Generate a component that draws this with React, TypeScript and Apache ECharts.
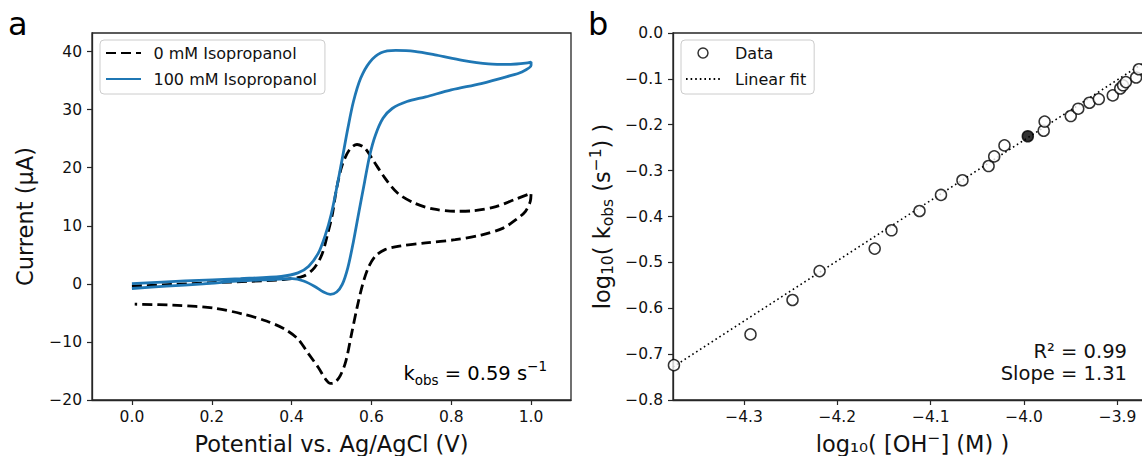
import React, { useEffect, useRef } from "react";
import * as echarts from "echarts";

// ---------- Panel a: cyclic voltammograms (forward scan then reverse scan) ----------
const cv0Potential = [
  0, 0.1, 0.2, 0.3, 0.38, 0.43, 0.457, 0.476, 0.49, 0.502, 0.513, 0.527, 0.545, 0.564, 0.583, 0.606, 0.634,
  0.666, 0.708, 0.754, 0.81, 0.856, 0.912, 0.958, 1.0,
  0.998, 0.986, 0.963, 0.93, 0.875, 0.81, 0.736, 0.67, 0.634, 0.61, 0.592, 0.578, 0.564, 0.55, 0.536, 0.522,
  0.508, 0.497, 0.485, 0.467, 0.443, 0.416, 0.383, 0.337, 0.281, 0.207, 0.114, 0.007,
];
const cv0Current = [
  -0.4, -0.1, 0.2, 0.45, 0.75, 1.33, 2.76, 5.05, 8.48, 11.9, 16.5, 20.5, 23.1, 24.0, 23.4, 21.1, 18.2,
  15.6, 13.9, 12.9, 12.5, 12.6, 13.3, 14.5, 15.6,
  14.2, 12.5, 11.1, 9.6, 8.4, 7.6, 7.05, 6.5, 5.9, 4.8, 2.76, -0.1, -4.1, -8.7, -13.3, -15.8,
  -17.0, -17.15, -16.4, -14.4, -12.1, -9.5, -7.8, -6.4, -5.25, -4.2, -3.7, -3.5,
];
const cv100Potential = [
  0, 0.133, 0.272, 0.374, 0.416, 0.443, 0.467, 0.485, 0.499, 0.513, 0.527, 0.541, 0.555, 0.573, 0.596,
  0.624, 0.661, 0.708, 0.763, 0.828, 0.893, 0.949, 0.986, 1.0,
  1.0, 0.977, 0.94, 0.875, 0.8, 0.736, 0.689, 0.652, 0.629, 0.61, 0.596, 0.583, 0.569, 0.555, 0.541,
  0.527, 0.513, 0.497, 0.48, 0.457, 0.43, 0.402, 0.355, 0.272, 0.179, 0.086, 0.0,
];
const cv100Current = [
  0.05, 0.5, 0.9, 1.3, 1.9, 3.05, 5.3, 8.5, 11.9, 16.5, 21.6, 26.8, 31.4, 35.4, 38.2,
  39.8, 40.2, 40.05, 39.4, 38.5, 37.9, 37.8, 38.0, 38.2,
  37.65, 36.5, 35.7, 34.5, 33.4, 32.2, 31.4, 30.2, 28.5, 25.6, 22.2, 17.6, 12.5, 7.3, 2.8,
  -0.1, -1.4, -1.8, -1.4, -0.4, 0.5, 0.9, 0.75, 0.5, 0.0, -0.4, -0.8,
];
const cvXTicks = [0, 0.2, 0.4, 0.6, 0.8, 1.0];
const cvYTicks = [-20, -10, 0, 10, 20, 30, 40];

// ---------- Panel b: log k_obs vs log [OH-] ----------
const logOH = [
  -4.375, -4.293, -4.248, -4.219, -4.16, -4.142, -4.112, -4.089, -4.066, -4.038, -4.032, -4.021, -3.996,
  -3.979, -3.978, -3.95, -3.942, -3.93, -3.92, -3.905, -3.897, -3.894, -3.891, -3.88, -3.877,
];
const logK = [
  -0.724, -0.657, -0.582, -0.519, -0.47, -0.43, -0.388, -0.353, -0.321, -0.29, -0.269, -0.245, -0.225,
  -0.213, -0.193, -0.181, -0.165, -0.152, -0.144, -0.136, -0.121, -0.114, -0.107, -0.097, -0.079,
];
const filledIndex = 12;
const fitLogOH = [-4.376, -3.862];
const fitLogK = [-0.728, -0.052];
const ohXTicks = [-4.3, -4.2, -4.1, -4.0, -3.9];
const kYTicks = [-0.8, -0.7, -0.6, -0.5, -0.4, -0.3, -0.2, -0.1, 0.0];

const FONT = "DejaVu Sans";
const INK = "#111";
const FRAME = "#262626";

const minus = (v: number, d: number) => (v < -1e-9 ? "\u2212" : "") + Math.abs(v).toFixed(d);

const richName = {
  n: { fontFamily: FONT, fontSize: 22.5, lineHeight: 28, color: INK },
  s: { fontFamily: FONT, fontSize: 15.5, lineHeight: 15.5, verticalAlign: "bottom", color: INK },
  p: { fontFamily: FONT, fontSize: 15.5, lineHeight: 15.5, verticalAlign: "top", color: INK },
};
const richNote = {
  n: { fontFamily: FONT, fontSize: 19.5, lineHeight: 28, color: INK },
  s: { fontFamily: FONT, fontSize: 13.5, lineHeight: 13.5, verticalAlign: "bottom", color: INK },
  p: { fontFamily: FONT, fontSize: 13.5, lineHeight: 13.5, verticalAlign: "top", color: INK },
};

function makeAxis(
  gridIndex: number,
  min: number,
  max: number,
  ticks: number[],
  digits: number,
  name: string,
  nameGap: number,
  isY: boolean
) {
  return {
    type: "value",
    gridIndex,
    min,
    max,
    axisLine: { show: true, onZero: false, lineStyle: { color: FRAME, width: 1.3 } },
    axisTick: { show: true, length: 5, customValues: ticks, lineStyle: { color: FRAME, width: 1.2 } },
    axisLabel: {
      customValues: ticks,
      formatter: (v: number) => minus(v, digits),
      color: INK,
      fontFamily: FONT,
      fontSize: 15.5,
      margin: isY ? 10 : 9,
      showMinLabel: true,
      showMaxLabel: true,
    },
    splitLine: { show: false },
    name,
    nameLocation: "middle",
    nameGap,
    nameRotate: isY ? 90 : 0,
    nameTextStyle: { fontFamily: FONT, fontSize: 22.5, lineHeight: 28, color: INK, rich: richName },
  };
}

const zip = (xs: number[], ys: number[]) => xs.map((x, i) => [x, ys[i]]);

const legendCommon = {
  orient: "vertical",
  selectedMode: false,
  backgroundColor: "rgba(255,255,255,0.8)",
  borderColor: "#cccccc",
  borderWidth: 1,
  borderRadius: 4,
  itemGap: 8,
};

const option = {
  animation: false,
  backgroundColor: "#ffffff",
  grid: [
    { left: 92, top: 33, width: 479, height: 367, show: true, borderColor: FRAME, borderWidth: 1.3, containLabel: false, outerBoundsMode: "none" },
    { left: 673, top: 33, width: 479, height: 367, show: true, borderColor: FRAME, borderWidth: 1.3, containLabel: false, outerBoundsMode: "none" },
  ],
  xAxis: [
    makeAxis(0, -0.1, 1.1, cvXTicks, 1, "Potential vs. Ag/AgCl (V)", 27, false),
    makeAxis(1, -4.376, -3.863, ohXTicks, 1, "{n|log\u2081\u2080( [OH}{p|\u2212}{n|] (M) )}", 26, false),
  ],
  yAxis: [
    makeAxis(0, -20, 43.2, cvYTicks, 0, "Current (\u03bcA)", 53, true),
    makeAxis(1, -0.8, 0, kYTicks, 1, "{n|log}{s|10}{n|( k}{s|obs}{n| (s}{p|\u22121}{n|) )}", 57, true),
  ],
  legend: [
    {
      ...legendCommon,
      left: 100,
      top: 40,
      padding: [4, 8, 6, 5],
      itemWidth: 35,
      itemHeight: 14,
      textStyle: { fontFamily: FONT, fontSize: 16, color: INK, lineHeight: 18, padding: [0, 0, 0, 7.5] },
      data: [
        { name: "0 mM Isopropanol", itemStyle: { opacity: 0 } },
        { name: "100 mM Isopropanol", itemStyle: { opacity: 0 } },
      ],
    },
    {
      ...legendCommon,
      left: 681,
      top: 40,
      padding: [4, 8, 6, 4],
      itemWidth: 34,
      itemHeight: 10,
      textStyle: { fontFamily: FONT, fontSize: 16, color: INK, lineHeight: 18, padding: [0, 0, 0, 10] },
      data: [
        { name: "Data", icon: "circle", itemStyle: { color: "#ffffff", borderColor: "#000000", borderWidth: 1.5 } },
        { name: "Linear fit", itemStyle: { opacity: 0 } },
      ],
    },
  ],
  series: [
    {
      name: "0 mM Isopropanol",
      type: "line",
      xAxisIndex: 0,
      yAxisIndex: 0,
      data: zip(cv0Potential, cv0Current),
      symbol: "none",
      showSymbol: false,
      smooth: 0.3,
      color: "#000000",
      lineStyle: { color: "#000000", width: 2.8, type: [10, 5] },
      z: 3,
    },
    {
      name: "100 mM Isopropanol",
      type: "line",
      xAxisIndex: 0,
      yAxisIndex: 0,
      data: zip(cv100Potential, cv100Current),
      symbol: "none",
      showSymbol: false,
      smooth: 0.3,
      color: "#1f77b4",
      lineStyle: { color: "#1f77b4", width: 2.8 },
      z: 4,
    },
    {
      name: "Linear fit",
      type: "line",
      xAxisIndex: 1,
      yAxisIndex: 1,
      data: zip(fitLogOH, fitLogK),
      symbol: "none",
      showSymbol: false,
      color: "#000000",
      lineStyle: { color: "#000000", width: 1.6, type: [1.6, 3] },
      z: 2,
    },
    {
      name: "Data",
      type: "scatter",
      xAxisIndex: 1,
      yAxisIndex: 1,
      symbol: "circle",
      symbolSize: 11,
      itemStyle: { color: "#ffffff", borderColor: "#000000", borderWidth: 1.5 },
      data: logOH.map((x, i) =>
        i === filledIndex
          ? { value: [x, logK[i]], itemStyle: { color: "#000000" } }
          : { value: [x, logK[i]] }
      ),
      z: 5,
    },
  ],
  graphic: [
    { type: "text", style: { text: "a", x: 8, y: 24, fontFamily: FONT, fontSize: 32, fill: "#000", verticalAlign: "middle" } },
    { type: "text", style: { text: "b", x: 588, y: 24, fontFamily: FONT, fontSize: 32, fill: "#000", verticalAlign: "middle" } },
    {
      type: "text",
      style: {
        text: "{n|k}{s|obs}{n| = 0.59 s}{p|\u22121}",
        rich: richNote,
        x: 547,
        y: 373,
        align: "right",
        verticalAlign: "middle",
      },
    },
    { type: "text", style: { text: "R\u00b2 = 0.99", x: 1127, y: 351, align: "right", verticalAlign: "middle", fontFamily: FONT, fontSize: 19.5, fill: INK } },
    { type: "text", style: { text: "Slope = 1.31", x: 1127, y: 373, align: "right", verticalAlign: "middle", fontFamily: FONT, fontSize: 19.5, fill: INK } },
  ],
};

export default function App() {
  const ref = useRef<HTMLDivElement>(null);
  useEffect(() => {
    const chart = echarts.init(ref.current as HTMLDivElement, null, { renderer: "svg" });
    chart.setOption(option as any);
    return () => chart.dispose();
  }, []);
  return (
    <div
      ref={ref}
      style={{ position: "absolute", left: 0, top: 0, width: 1142, height: 456, background: "#fff" }}
    />
  );
}
